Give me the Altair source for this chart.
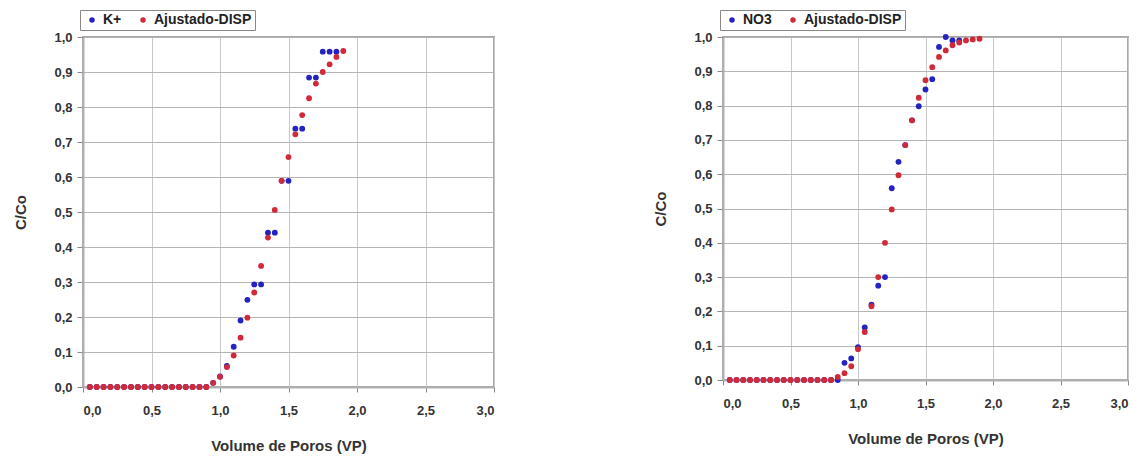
import altair as alt
import pandas as pd

# ---- Left panel: K+ ----
k_x = [0.05, 0.10, 0.15, 0.20, 0.25, 0.30, 0.35, 0.40, 0.45, 0.50, 0.55, 0.60, 0.65, 0.70, 0.75, 0.80, 0.85, 0.90,
       0.95, 1.00, 1.05, 1.10, 1.15, 1.20, 1.25, 1.30, 1.35, 1.40, 1.45, 1.50, 1.55, 1.60, 1.65, 1.70, 1.75, 1.80, 1.85]
k_y = [0, 0, 0, 0, 0, 0, 0, 0, 0, 0, 0, 0, 0, 0, 0, 0, 0, 0,
       0.012, 0.03, 0.06, 0.115, 0.19, 0.249, 0.293, 0.293, 0.441, 0.441, 0.589, 0.589, 0.738, 0.738, 0.884, 0.884,
       0.958, 0.958, 0.958]

adjk_x = [0.05, 0.10, 0.15, 0.20, 0.25, 0.30, 0.35, 0.40, 0.45, 0.50, 0.55, 0.60, 0.65, 0.70, 0.75, 0.80, 0.85, 0.90,
          0.95, 1.00, 1.05, 1.10, 1.15, 1.20, 1.25, 1.30, 1.35, 1.40, 1.45, 1.50, 1.55, 1.60, 1.65, 1.70, 1.75, 1.80,
          1.85, 1.90]
adjk_y = [0, 0, 0, 0, 0, 0, 0, 0, 0, 0, 0, 0, 0, 0, 0, 0, 0, 0,
          0.012, 0.029, 0.057, 0.09, 0.141, 0.198, 0.27, 0.346, 0.427, 0.506, 0.589, 0.657, 0.722, 0.777, 0.825,
          0.867, 0.90, 0.922, 0.943, 0.96]

# ---- Right panel: NO3 ----
no3_x = [0.05, 0.10, 0.15, 0.20, 0.25, 0.30, 0.35, 0.40, 0.45, 0.50, 0.55, 0.60, 0.65, 0.70, 0.75, 0.80, 0.85,
         0.90, 0.95, 1.00, 1.05, 1.10, 1.15, 1.20, 1.25, 1.30, 1.35, 1.40, 1.45, 1.50, 1.55, 1.60, 1.65, 1.70, 1.75]
no3_y = [0, 0, 0, 0, 0, 0, 0, 0, 0, 0, 0, 0, 0, 0, 0, 0, 0,
         0.05, 0.063, 0.096, 0.153, 0.22, 0.275, 0.30, 0.559, 0.636, 0.685, 0.757, 0.798, 0.847, 0.877, 0.971,
         1.0, 0.99, 0.99]

adjn_x = [0.05, 0.10, 0.15, 0.20, 0.25, 0.30, 0.35, 0.40, 0.45, 0.50, 0.55, 0.60, 0.65, 0.70, 0.75, 0.80,
          0.85, 0.90, 0.95, 1.00, 1.05, 1.10, 1.15, 1.20, 1.25, 1.30, 1.35, 1.40, 1.45, 1.50, 1.55, 1.60, 1.65,
          1.70, 1.75, 1.80, 1.85, 1.90]
adjn_y = [0, 0, 0, 0, 0, 0, 0, 0, 0, 0, 0, 0, 0, 0, 0, 0,
          0.009, 0.02, 0.04, 0.09, 0.14, 0.215, 0.30, 0.40, 0.497, 0.597, 0.685, 0.757, 0.823, 0.874, 0.912,
          0.942, 0.961, 0.976, 0.984, 0.99, 0.993, 0.995]

x_ticks = [0.0, 0.5, 1.0, 1.5, 2.0, 2.5, 3.0]
y_ticks = [0.0, 0.1, 0.2, 0.3, 0.4, 0.5, 0.6, 0.7, 0.8, 0.9, 1.0]
fit_name = "Ajustado-DISP"
colors = ["#2323c0", "#d02a3a"]

FONT = "Liberation Sans"
LBL = "replace(format(datum.value, '.1f'), '.', ',')"


def panel(bx, by, bname, rx, ry, w, h):
    df = pd.DataFrame({
        "x": bx + rx,
        "y": by + ry,
        "s": [bname] * len(bx) + [fit_name] * len(rx),
    })
    return alt.Chart(df).mark_circle(size=34, opacity=1).encode(
        x=alt.X("x:Q", scale=alt.Scale(domain=[0, 3], nice=False, zero=True),
                axis=alt.Axis(values=x_ticks, labelExpr=LBL, title="Volume de Poros (VP)",
                              tickSize=5, labelPadding=12, titlePadding=21, gridColor="#c8c8c8")),
        y=alt.Y("y:Q", scale=alt.Scale(domain=[0, 1], nice=False),
                axis=alt.Axis(values=y_ticks, labelExpr=LBL, title="C/Co",
                              tickSize=6, labelPadding=5, titlePadding=25, gridColor="#b4b4b4")),
        color=alt.Color("s:N", scale=alt.Scale(domain=[bname, fit_name], range=colors),
                        legend=alt.Legend(title=None, orient="none", legendX=-3, legendY=-27,
                                          direction="horizontal", symbolType="circle", symbolSize=30,
                                          labelFont=FONT, labelFontSize=14, labelFontWeight="bold",
                                          labelColor="#222", strokeColor="#888", fillColor="white",
                                          padding=3, columnPadding=12, symbolOffset=2, labelOffset=4)),
    ).properties(width=w, height=h)


left = panel(k_x, k_y, "K+", adjk_x, adjk_y, 411, 350)
right = panel(no3_x, no3_y, "NO3", adjn_x, adjn_y, 405, 343)

chart = alt.hconcat(left, right, spacing=156).resolve_scale(color="independent").resolve_legend(
    color="independent"
).properties(padding={"left": 4, "top": 0, "right": 0, "bottom": 0}).configure_view(
    stroke="#a8a8a8", strokeWidth=2
).configure_axis(
    labelFont=FONT, labelFontSize=13, labelFontWeight="bold", labelColor="#333",
    titleFont=FONT, titleFontSize=15, titleFontWeight="bold", titleColor="#333",
    domainColor="#b0b0b0", domainWidth=2, tickColor="#888", gridWidth=1
)

chart.save("out.html", embed_options={"renderer": "svg", "actions": False})
